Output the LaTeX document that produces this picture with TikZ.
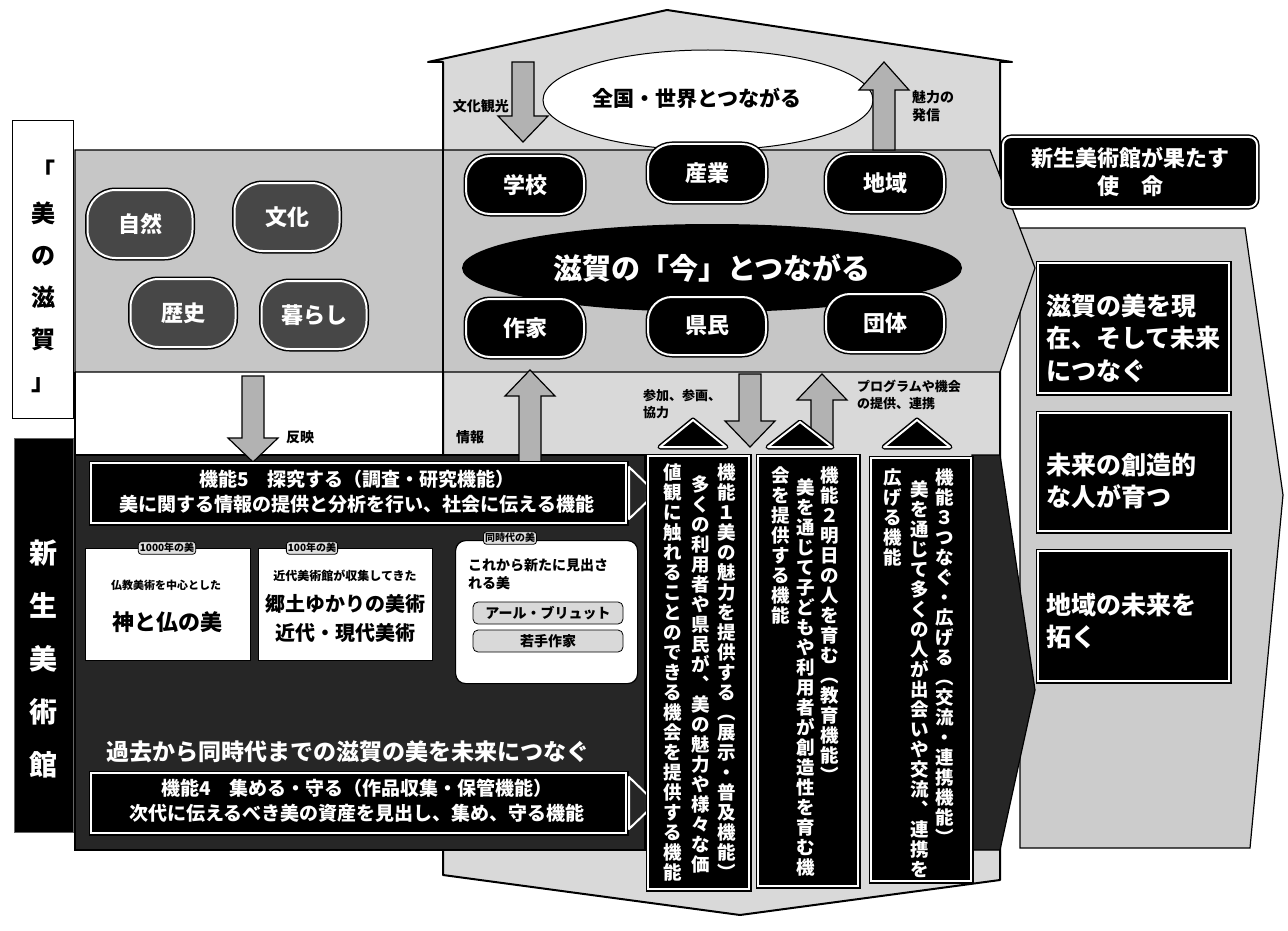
\documentclass[tikz,border=0pt]{standalone}
\usepackage{fontspec}
\newfontfamily\jp{Noto Sans CJK JP}
\usetikzlibrary{shapes.geometric}
\newcommand\jfs[1]{\fontsize{#1}{\the\dimexpr #1pt*13/10\relax}\selectfont}
\newdimen\tatep
\newcommand\tatecol[2][20pt]{\tatep=#1\relax\vtop{\offinterlineskip\tatecolA#2\relax}}
\def\tatecolA#1{\ifx\relax#1\else\hbox to 1.1em{\hss\vrule width0pt height.82\tatep depth.18\tatep\relax#1\hss}\expandafter\tatecolA\fi}
\newcommand\darrow[4]{\filldraw[arr] (#1-11,#2) -- (#1+11,#2) -- (#1+11,#3-#4) -- (#1+25,#3-#4) -- (#1,#3) -- (#1-25,#3-#4) -- (#1-11,#3-#4) -- cycle;}
\newcommand\uarrow[4]{\filldraw[arr] (#1-11,#3) -- (#1+11,#3) -- (#1+11,#2+#4) -- (#1+25,#2+#4) -- (#1,#2) -- (#1-25,#2+#4) -- (#1-11,#2+#4) -- cycle;}
\tikzset{
 jt/.style={font=\jp\bfseries\jfs{#1}, inner sep=0pt},
 wt/.style={jt=#1, text=white},
 pill/.style={rounded corners=24pt, fill=black, draw=white, line width=2pt, preaction={draw=black,line width=5pt}, text=white, font=\jp\bfseries\jfs{22}, minimum width=118pt, minimum height=58pt, inner sep=0pt},
 lpill/.style={pill, fill=black!72, minimum width=105pt, minimum height=68pt, rounded corners=28pt},
 bbox/.style={fill=black, draw=white, line width=2pt, preaction={draw=black,line width=5pt}, inner sep=0pt},
 wbox/.style={fill=white, draw=black, line width=1.2pt, inner sep=0pt},
 tag/.style={fill=gray!25, draw=black, line width=0.8pt, rounded corners=3pt, font=\jp\bfseries\jfs{10}, inner sep=1.5pt},
 gpill/.style={fill=gray!30, draw=black, line width=0.8pt, rounded corners=5pt, font=\jp\bfseries\jfs{14}, minimum width=150pt, minimum height=22pt, inner sep=0pt},
 arr/.style={fill=gray!60, draw=black, line width=1.2pt},
 tri/.style={fill=black, draw=white, line width=2pt, line join=round, preaction={draw=black,line width=5pt,line join=round}},
 play/.style={fill=black!85, draw=white, line width=2pt, line join=round},
}
\begin{document}
\begin{tikzpicture}[x=1pt,y=-1pt]
\fill[white] (0,0) rectangle (1288,931);
\useasboundingbox (0,0) rectangle (1288,931);
% right column
\filldraw[fill=gray!40, draw=black, line width=1.2pt] (1020,228) -- (1245,228) -- (1283,495) -- (1250,848) -- (1020,848) -- cycle;
% house
\filldraw[fill=gray!30, draw=black, line width=2pt, line join=round] (443,62) -- (428,62) -- (667,10) -- (1012,62) -- (1000,62) -- (1000,880) -- (740,915) -- (443,875) -- cycle;
\filldraw[fill=white, draw=black, line width=1pt] (708,100) ellipse [x radius=165, y radius=50];
% upper band
\filldraw[fill=gray!45, draw=black, line width=1.2pt] (75,150) -- (990,150) -- (1035,268) -- (1000,372) -- (75,372) -- cycle;
\draw[line width=1.2pt] (75,372) -- (75,455);
% lower band
\filldraw[fill=black!85, draw=black, line width=1.2pt] (75,455) -- (645,455) -- (645,850) -- (75,850) -- cycle;
\filldraw[fill=black!85, draw=black, line width=1.2pt] (972,455) -- (1000,455) -- (1035,690) -- (1000,850) -- (972,850) -- cycle;
\draw[line width=1.5pt] (443,62) -- (443,455);

% left boxes
\node[wbox, minimum width=61pt, minimum height=298pt, anchor=north west] (bino) at (12,120) {};
\node[jt=24, anchor=north] (binotxt) at (43,146) {\tatecol[42pt]{「美の滋賀」}};
\node[fill=black, draw=black!60, line width=1pt, minimum width=59pt, minimum height=394pt, anchor=north west, inner sep=0pt] (shinbar) at (14,438) {};
\node[wt=28, anchor=north] (shintxt) at (43,520) {\tatecol[53pt]{新生美術館}};

% left pills
\node[lpill] (shizen) at (140,224) {自然};
\node[lpill] (bunka) at (287,217) {文化};
\node[lpill] (rekishi) at (183,313) {歴史};
\node[lpill] (kurashi) at (314,315) {暮らし};

% top
\node[jt=21] (zenkoku) at (697,98) {全国・世界とつながる};
\darrow{523}{62}{142}{26}
\uarrow{884}{62}{150}{28}
\node[jt=14, anchor=east] (kanko) at (509,106) {文化観光};
\node[jt=14, align=left, anchor=west] (miryoku) at (912,106) {魅力の\\発信};

% center
\node[ellipse, fill=black, minimum width=500pt, minimum height=88pt, inner sep=0pt] (ima) at (712,268) {};
\node[wt=29] (imatxt) at (712,268) {滋賀の「今」とつながる};
\node[pill] (gakko) at (525,185) {学校};
\node[pill] (sangyo) at (707,173) {産業};
\node[pill] (chiiki) at (885,183) {地域};
\node[pill] (sakka) at (525,328) {作家};
\node[pill] (kenmin) at (707,326) {県民};
\node[pill] (dantai) at (885,323) {団体};

% arrows lower
\darrow{253}{376}{462}{24}
\node[jt=14] (hanei) at (300,437) {反映};
\uarrow{530}{370}{470}{26}
\node[jt=14] (joho) at (470,437) {情報};
\darrow{750}{374}{447}{26}
\uarrow{822}{374}{447}{26}
\node[jt=13, align=left, anchor=west] (sanka) at (643,404) {参加、参画、\\協力};
\node[jt=13, align=left, anchor=west] (program) at (857,395) {プログラムや機会\\の提供、連携};
\filldraw[tri] (693,420) -- (726,447) -- (660,447) -- cycle;
\filldraw[tri] (800,422) -- (832,447) -- (768,447) -- cycle;
\filldraw[tri] (917,420) -- (950,447) -- (884,447) -- cycle;

% function 5
\node[bbox, minimum width=535pt, minimum height=60pt, anchor=north west] (k5) at (90,462) {};
\node[wt=19, align=center] (k5t) at (357,492) {機能5　探究する（調査・研究機能）\\美に関する情報の提供と分析を行い、社会に伝える機能};
\filldraw[play] (629,467) -- (656,493) -- (629,519) -- cycle;

% three boxes
\node[wbox, minimum width=165pt, minimum height=112pt, anchor=north west] (bA) at (85,548) {};
\node[wbox, minimum width=174pt, minimum height=112pt, anchor=north west] (bB) at (258,548) {};
\node[wbox, rounded corners=10pt, minimum width=182pt, minimum height=143pt, anchor=north west] (bC) at (455,540) {};
\node[tag] (tA) at (167,548) {1000年の美};
\node[tag] (tB) at (312,548) {100年の美};
\node[tag] (tC) at (510,538) {同時代の美};
\node[jt=11] (butsu) at (166,585) {仏教美術を中心とした};
\node[jt=22] (kami) at (167,622) {神と仏の美};
\node[jt=12] (kindai1) at (345,576) {近代美術館が収集してきた};
\node[jt=20] (kyodo) at (345,604) {郷土ゆかりの美術};
\node[jt=20] (kindai2) at (345,633) {近代・現代美術};
\node[jt=14, align=left, anchor=north west] (korekara) at (468,558) {これから新たに見出さ\\れる美};
\node[gpill] (art) at (548,613) {アール・ブリュット};
\node[gpill] (wakate) at (548,641) {若手作家};

\node[wt=23] (kako) at (348,752) {過去から同時代までの滋賀の美を未来につなぐ};

% function 4
\node[bbox, minimum width=535pt, minimum height=60pt, anchor=north west] (k4) at (90,772) {};
\node[wt=19, align=center] (k4t) at (357,801) {機能4　集める・守る（作品収集・保管機能）\\次代に伝えるべき美の資産を見出し、集め、守る機能};
\filldraw[play] (629,777) -- (656,803) -- (629,829) -- cycle;

% vertical functions
\node[bbox, minimum width=101pt, minimum height=433pt, anchor=north west] (k1) at (647,455) {};
\node[bbox, minimum width=100pt, minimum height=430pt, anchor=north west] (k2) at (757,455) {};
\node[bbox, minimum width=100pt, minimum height=423pt, anchor=north west] (k3) at (870,457) {};
\node[wt=18.5, anchor=north] (k1a) at (727,463) {\tatecol{機能１美の魅力を提供する︵展示・普及機能︶}};
\node[wt=18.5, anchor=north] (k1b) at (701,475) {\tatecol{多くの利用者や県民が︑美の魅力や様々な価}};
\node[wt=18.5, anchor=north] (k1c) at (673,463) {\tatecol{値観に触れることのできる機会を提供する機能}};
\node[wt=18.5, anchor=north] (k2a) at (830,466) {\tatecol{機能２明日の人を育む︵教育機能︶}};
\node[wt=18.5, anchor=north] (k2b) at (806,478) {\tatecol{美を通じて子どもや利用者が創造性を育む機}};
\node[wt=18.5, anchor=north] (k2c) at (781,466) {\tatecol{会を提供する機能}};
\node[wt=18.5, anchor=north] (k3a) at (945,468) {\tatecol{機能３つなぐ・広げる︵交流・連携機能︶}};
\node[wt=18.5, anchor=north] (k3b) at (920,480) {\tatecol{美を通じて多くの人が出会いや交流︑連携を}};
\node[wt=18.5, anchor=north] (k3c) at (893,468) {\tatecol{広げる機能}};

% right: mission
\node[bbox, rounded corners=8pt, minimum width=254pt, minimum height=70pt] (mt) at (1130,172) {};
\node[wt=22, align=center] (mtt) at (1130,172) {新生美術館が果たす\\使　命};
\node[bbox, minimum width=191pt, minimum height=130pt, anchor=north west] (m1) at (1037,262) {};
\node[wt=25, align=left, anchor=west] (m1t) at (1046,338) {滋賀の美を現\\在、そして未来\\につなぐ};
\node[bbox, minimum width=191pt, minimum height=118pt, anchor=north west] (m2) at (1037,412) {};
\node[wt=25, align=left, anchor=west] (m2t) at (1046,481) {未来の創造的\\な人が育つ};
\node[bbox, minimum width=191pt, minimum height=130pt, anchor=north west] (m3) at (1037,550) {};
\node[wt=25, align=left, anchor=west] (m3t) at (1046,621) {地域の未来を\\拓く};
\end{tikzpicture}
\end{document}
